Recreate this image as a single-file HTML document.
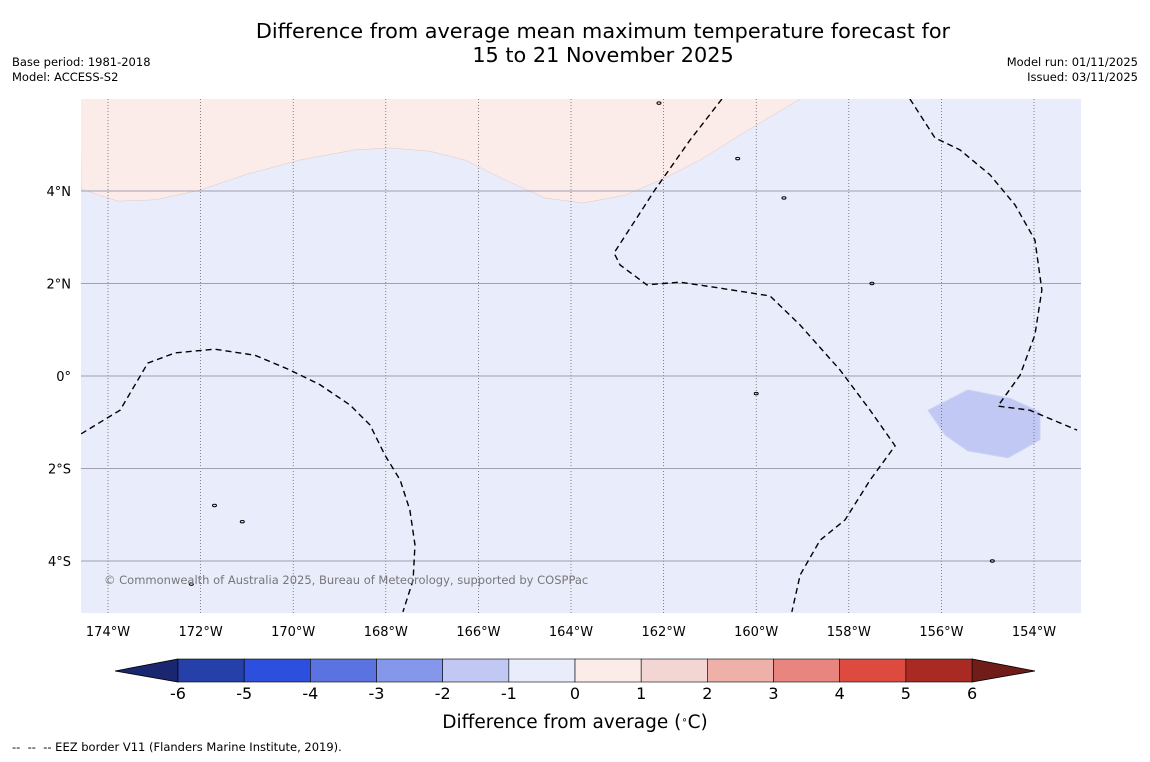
<!DOCTYPE html>
<html><head><meta charset="utf-8">
<style>
html,body{margin:0;padding:0;background:#fff;}
body{width:1150px;height:758px;overflow:hidden;font-family:"DejaVu Sans","Liberation Sans",sans-serif;}
</style></head>
<body>
<svg id="chart" width="1150" height="758" xmlns="http://www.w3.org/2000/svg" font-family="DejaVu Sans, Liberation Sans, sans-serif">
<text x="603" y="38" font-size="20.8" text-anchor="middle" fill="#000">Difference from average mean maximum temperature forecast for</text>
<text x="603" y="62" font-size="20.8" text-anchor="middle" fill="#000">15 to 21 November 2025</text>
<text x="12" y="66" font-size="11.5">Base period: 1981-2018</text>
<text x="12" y="81" font-size="11.5">Model: ACCESS-S2</text>
<text x="1138" y="66" font-size="11.5" text-anchor="end">Model run: 01/11/2025</text>
<text x="1138" y="81" font-size="11.5" text-anchor="end">Issued: 03/11/2025</text>
<defs><clipPath id="plotclip"><rect x="81" y="99" width="1000" height="514"/></clipPath></defs>
<g id="map" clip-path="url(#plotclip)"></g>
<g id="axes"></g>
<g id="cbar"></g>
<text x="575" y="728" font-size="18.5" text-anchor="middle">Difference from average (<tspan baseline-shift="super" font-size="10">∘</tspan>C)</text>
<text x="12" y="751" font-size="11.5">--&#160;&#160;--&#160;&#160;-- EEZ border V11 (Flanders Marine Institute, 2019).</text>
</svg>
<script>
const lonTicks=[-174,-172,-170,-168,-166,-164,-162,-160,-158,-156,-154];
const latTicks=[4,2,0,-2,-4];
const cbLevels=[-6,-5,-4,-3,-2,-1,0,1,2,3,4,5,6];
const cbColors=["#2540a8","#2d4fde","#5a73e0","#8597ea","#c1c8f4","#e9ecfb","#fbece9","#f3d6d3","#efb0aa","#e8857e","#dc4a40","#a82a22"];
const pinkLon=[-174.58,-173.78,-172.98,-172.01,-171.04,-169.85,-168.67,-167.91,-167.05,-166.29,-165.43,-164.56,-163.74,-162.83,-161.97,-161.21,-160.35,-159.92,-159.05];
const pinkLat=[4.04,3.78,3.81,4.02,4.35,4.67,4.89,4.93,4.86,4.67,4.24,3.85,3.74,3.91,4.28,4.67,5.21,5.47,5.99];
const blueLon=[-156.29,-155.43,-154.52,-153.87,-153.87,-154.56,-155.43,-155.92];
const blueLat=[-0.74,-0.30,-0.48,-0.78,-1.38,-1.77,-1.62,-1.28];
const eezALon=[-174.58,-173.74,-173.14,-172.55,-171.69,-170.83,-170.07,-169.42,-168.77,-168.34,-168.02,-167.69,-167.48,-167.37,-167.41,-167.63];
const eezALat=[-1.25,-0.74,0.28,0.50,0.58,0.45,0.13,-0.19,-0.63,-1.06,-1.71,-2.25,-2.90,-3.65,-4.41,-5.10];
const eezBLon=[-160.74,-161.43,-162.19,-163.07,-162.94,-162.36,-161.65,-160.78,-159.70,-159.05,-158.19,-157.54,-157.00,-157.54,-158.08,-158.62,-159.05,-159.23];
const eezBLat=[5.99,5.10,4.02,2.66,2.40,1.97,2.03,1.90,1.73,1.10,0.13,-0.74,-1.51,-2.25,-3.11,-3.55,-4.30,-5.10];
const eezCLon=[-156.68,-156.14,-155.60,-154.95,-154.41,-153.98,-153.83,-153.98,-154.30,-154.78,-154.09,-153.07];
const eezCLat=[5.99,5.15,4.89,4.35,3.70,2.94,1.86,0.89,0.02,-0.65,-0.74,-1.17];
const islandLon=[-171.7,-172.2,-171.1,-159.4,-157.5,-160.4,-162.1,-154.9,-160.0];
const islandLat=[-2.8,-4.5,-3.15,3.85,2.0,4.7,5.9,-4.0,-0.38];

const NS="http://www.w3.org/2000/svg";
const X=lon=>108+(lon+174)*46.3;
const Y=lat=>191-(lat-4)*46.25;
const CX=v=>178+(v+6)*66.17;
function mk(tag,attrs,parent){const e=document.createElementNS(NS,tag);for(const k in attrs)e.setAttribute(k,attrs[k]);parent.appendChild(e);return e;}
const map=document.getElementById('map'),axes=document.getElementById('axes'),cb=document.getElementById('cbar');

let bg=mk('rect',{x:81,y:99,width:1000,height:514,fill:"#e9ecfb"},map);


let pp="M"+X(-174.6)+","+Y(6.2);
pinkLon.forEach((l,i)=>{pp+=" L"+X(l)+","+Y(pinkLat[i]);});
pp+=" L"+X(-158)+","+Y(6.2)+" Z";
let pink=mk('path',{d:pp,fill:"#fbece9",stroke:"#e0c8c8","stroke-width":0.5},map);


let bp=blueLon.map((l,i)=>X(l)+","+Y(blueLat[i])).join(" ");
let blue=mk('polygon',{points:bp,fill:"#c1c8f4",stroke:"#cdd3f5","stroke-width":1},map);



lonTicks.forEach(l=>{
  let g=mk('line',{x1:X(l),x2:X(l),y1:99,y2:613,stroke:"#555","stroke-width":0.7,"stroke-dasharray":"1,2"},map);
  
  
});
latTicks.forEach(l=>{
  let g=mk('line',{x1:81,x2:1081,y1:Y(l),y2:Y(l),stroke:"#a0a0b0","stroke-width":1},map);
  
  
});
[[eezALon,eezALat],[eezBLon,eezBLat],[eezCLon,eezCLat]].forEach(([lo,la])=>{
  let pts=lo.map((l,i)=>X(l)+","+Y(la[i])).join(" ");
  let e=mk('polyline',{points:pts,fill:"none",stroke:"#000","stroke-width":1.4,"stroke-dasharray":"6,4"},map);
  
  
});
islandLon.forEach((l,i)=>{
  let e=mk('ellipse',{cx:X(l),cy:Y(islandLat[i]),rx:2,ry:1.2,fill:"none",stroke:"#000","stroke-width":1},map);
  
  
});
let cp=mk('text',{x:104,y:584,"font-size":11.5,fill:"#777"},map);
cp.textContent="© Commonwealth of Australia 2025, Bureau of Meteorology, supported by COSPPac";



lonTicks.forEach(l=>{
  let t=mk('text',{x:X(l),y:636,"font-size":13,"text-anchor":"middle"},axes);
  t.textContent=Math.abs(l)+"°W";
  
  
});
latTicks.forEach(l=>{
  let t=mk('text',{x:71,y:Y(l)+5,"font-size":13,"text-anchor":"end"},axes);
  t.textContent=l===0?"0°":Math.abs(l)+"°"+(l>0?"N":"S");
  
  
});

let tl=mk('polygon',{points:`115,671 ${CX(-6)},659 ${CX(-6)},682`,fill:"#1a2670",stroke:"#000","stroke-width":0.8},cb);


let tr=mk('polygon',{points:`1035,671 ${CX(6)},659 ${CX(6)},682`,fill:"#701c18",stroke:"#000","stroke-width":0.8},cb);


cbColors.forEach((c,i)=>{
  let r=mk('rect',{x:CX(cbLevels[i]),y:659,width:CX(cbLevels[i+1])-CX(cbLevels[i]),height:23,fill:c,stroke:"#000","stroke-width":0.6},cb);
  
  
});
cbLevels.forEach(v=>{
  let t=mk('text',{x:CX(v),y:699,"font-size":16,"text-anchor":"middle"},cb);
  t.textContent=String(v);
  
  
});
</script>
</body></html>
